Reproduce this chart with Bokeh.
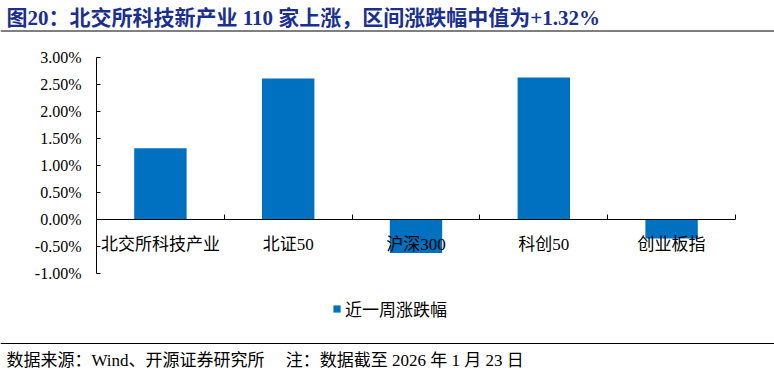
from bokeh.plotting import figure
from bokeh.models import (Range1d, LinearAxis, FixedTicker, Label, Span, Legend,
                          LegendItem, PrintfTickFormatter)
from bokeh.embed import file_html
from bokeh.resources import INLINE

# ---- data ----
categories = ["北交所科技产业", "北证50", "沪深300", "科创50", "创业板指"]
changes = [1.32, 2.61, -0.62, 2.63, -0.35]
y_ticks = [-1.0, -0.5, 0.0, 0.5, 1.0, 1.5, 2.0, 2.5, 3.0]
series_name = "近一周涨跌幅"
title_text = "图20：北交所科技新产业 110 家上涨，区间涨跌幅中值为+1.32%"
source_text = ("数据来源：Wind、开源证券研究所" + "\u00a0" * 5 +
               "注：数据截至 2026 年 1 月 23 日")

# ---- layout ----
W, H = 774, 374
FONT = "Liberation Serif, Noto Sans CJK SC"
BAR_COLOR = "#0070C0"
plot_left, plot_right = 96, 735        # px of axis span
zero_px, px_per_pct = 219, 54.0        # px from top of zero line
n = len(categories)
cat_w = (plot_right - plot_left) / n
x_start = -plot_left / cat_w
x_end = n + (W - plot_right) / cat_w
y_end = zero_px / px_per_pct
y_start = -(H - zero_px) / px_per_pct

centers = [i + 0.5 for i in range(n)]
boundaries = list(range(n + 1))

p = figure(width=W, height=H, output_backend="svg", toolbar_location=None,
           x_range=Range1d(x_start, x_end), y_range=Range1d(y_start, y_end),
           x_axis_location=None, y_axis_location=None, min_border=0,
           outline_line_color=None, background_fill_color="white")
p.grid.visible = False

bars = p.vbar(x=centers, top=changes, bottom=0, width=0.41,
              fill_color=BAR_COLOR, line_color=None)

# y axis
yaxis = LinearAxis(fixed_location=0, bounds=(y_ticks[0], y_ticks[-1]),
                   ticker=FixedTicker(ticks=y_ticks),
                   formatter=PrintfTickFormatter(format="%.2f%%"),
                   major_tick_in=4, major_tick_out=0,
                   minor_tick_line_color=None, major_label_standoff=15,
                   major_label_text_font=FONT, major_label_text_font_size="16px",
                   major_label_text_color="black",
                   axis_line_color="black", major_tick_line_color="black")
p.add_layout(yaxis, "left")

# x axis: line at zero, boundary ticks (minor), category labels at centres
xaxis = LinearAxis(fixed_location=0, bounds=(0, n),
                   ticker=FixedTicker(ticks=centers, minor_ticks=boundaries),
                   major_label_overrides=dict(zip(centers, categories)),
                   major_tick_line_color=None,
                   minor_tick_in=5, minor_tick_out=0,
                   minor_tick_line_color="black",
                   axis_line_color="black", major_label_standoff=9,
                   major_label_text_font=FONT, major_label_text_font_size="17px",
                   major_label_text_color="black")
p.add_layout(xaxis, "below")

# legend
legend = Legend(items=[LegendItem(label=series_name, renderers=[bars])],
                location=(332, 53), orientation="horizontal",
                glyph_width=9, glyph_height=9, label_standoff=4,
                padding=0, margin=0, border_line_color=None,
                background_fill_alpha=0, label_text_font=FONT,
                label_text_font_size="17px", label_text_color="black")
p.add_layout(legend)

# title & footer
p.add_layout(Label(x=6, y=H - 17, x_units="screen", y_units="screen",
                   text=title_text, text_font=FONT, text_font_style="bold",
                   text_font_size="21px", text_color="#1B2F8E",
                   text_baseline="middle"))
p.add_layout(Span(location=H - 30.5, location_units="screen", dimension="width",
                  line_color="black", line_width=1))
p.add_layout(Span(location=H - 343, location_units="screen", dimension="width",
                  line_color="black", line_width=1))
p.add_layout(Label(x=6, y=H - 360, x_units="screen", y_units="screen",
                   text=source_text, text_font=FONT, text_font_size="17px",
                   text_color="black", text_baseline="middle"))

open("out.html", "w").write(file_html(p, INLINE))
